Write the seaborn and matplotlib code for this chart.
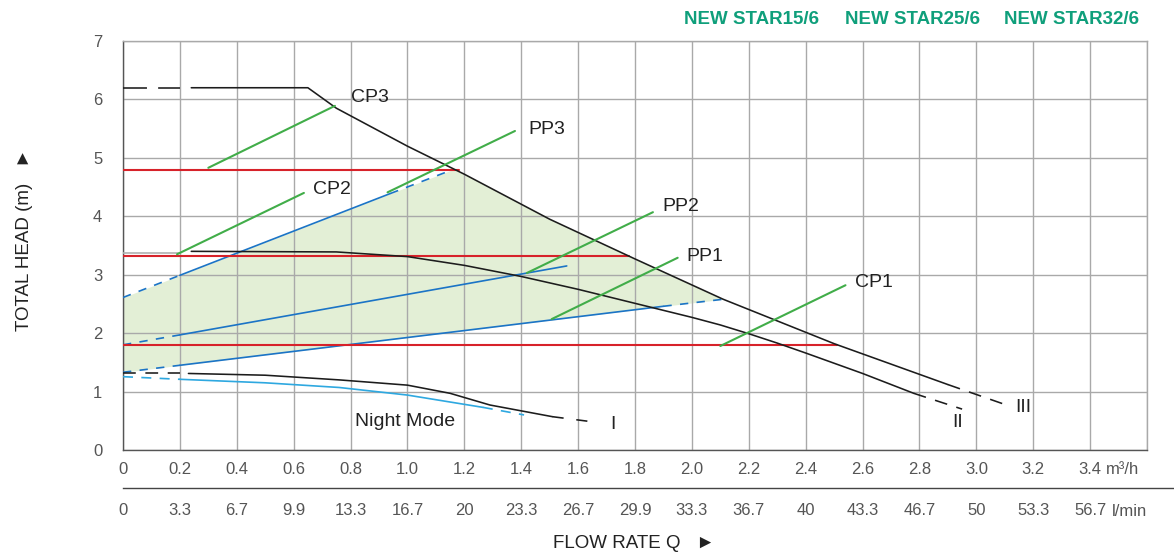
import numpy as np
import matplotlib
matplotlib.use("Agg")
import matplotlib.pyplot as plt
import seaborn as sns

# courbes de vitesse (debit m3/h, hauteur m)
q_iii = [0.24, 0.65, 0.75, 1.0, 1.2, 1.5, 1.8, 2.11, 2.5, 2.9]
h_iii = [6.2, 6.2, 5.85, 5.2, 4.72, 3.95, 3.27, 2.58, 1.82, 1.12]
q_iii_a, h_iii_a = [0, 0.2], [6.2, 6.2]
q_iii_b, h_iii_b = [2.9, 3.1], [1.12, 0.78]

q_ii = [0.24, 0.75, 1.0, 1.2, 1.4, 1.6, 1.85, 2.0, 2.1, 2.2, 2.3, 2.4, 2.6, 2.78]
h_ii = [3.4, 3.39, 3.31, 3.16, 2.97, 2.75, 2.45, 2.27, 2.14, 1.99, 1.83, 1.66, 1.31, 0.97]
q_ii_a, h_ii_a = [0, 0.2], [3.38, 3.38]
q_ii_b, h_ii_b = [2.78, 2.95], [0.97, 0.70]

q_i = [0.23, 0.5, 0.76, 1.0, 1.15, 1.29, 1.51]
h_i = [1.31, 1.28, 1.2, 1.11, 0.97, 0.77, 0.57]
q_i_a, h_i_a = [0, 0.2], [1.31, 1.31]
q_i_b, h_i_b = [1.51, 1.67], [0.57, 0.47]

# mode nuit
q_nm = [0.2, 0.5, 0.76, 1.0, 1.265]
h_nm = [1.21, 1.15, 1.07, 0.94, 0.73]
q_nm_a, h_nm_a = [0, 0.2], [1.255, 1.21]
q_nm_b, h_nm_b = [1.265, 1.41], [0.73, 0.6]

# pression proportionnelle
pp3_q, pp3_h = [0, 0.2, 0.94, 1.16], [2.61, 2.99, 4.39, 4.80]
pp2_q, pp2_h = [0, 0.2, 1.56], [1.80, 1.97, 3.15]
pp1_q, pp1_h = [0, 0.2, 1.9, 2.11], [1.33, 1.45, 2.46, 2.58]

# pression constante
cp_h = [4.8, 3.32, 1.8]
cp_qmax = [1.18, 1.78, 2.51]

# reperes
lead_names = ['CP3', 'CP2', 'PP3', 'PP2', 'PP1', 'CP1']
lead_q0 = [0.30, 0.19, 0.93, 1.42, 1.507, 2.10]
lead_h0 = [4.83, 3.35, 4.41, 3.03, 2.24, 1.78]
lead_q1 = [0.745, 0.636, 1.378, 1.863, 1.95, 2.54]
lead_h1 = [5.89, 4.40, 5.46, 4.07, 3.29, 2.82]
lab_q = [0.80, 0.668, 1.424, 1.895, 1.98, 2.573]
lab_h = [6.04, 4.46, 5.48, 4.16, 3.32, 2.875]

speed_names = ['I', 'II', 'III']
speed_q = [1.722, 2.935, 3.165]
speed_h = [0.43, 0.47, 0.72]

q_ticks = [0, 0.2, 0.4, 0.6, 0.8, 1.0, 1.2, 1.4, 1.6, 1.8, 2.0, 2.2, 2.4, 2.6, 2.8, 3.0, 3.2, 3.4, 3.6]
m3h_labels = ['0', '0.2', '0.4', '0.6', '0.8', '1.0', '1.2', '1.4', '1.6', '1.8', '2.0',
              '2.2', '2.4', '2.6', '2.8', '3.0', '3.2', '3.4', '']
lmin_labels = ['0', '3.3', '6.7', '9.9', '13.3', '16.7', '20', '23.3', '26.7', '29.9', '33.3',
               '36.7', '40', '43.3', '46.7', '50', '53.3', '56.7']
models = ['NEW STAR15/6', 'NEW STAR25/6', 'NEW STAR32/6']

sns.set_style('white')
plt.rcParams['font.family'] = ['Liberation Sans', 'DejaVu Sans']

BLACK = '#1c1c1c'
RED = '#d7222a'
GREEN = '#41ad49'
BLUE = '#1b74c6'
LBLUE = '#2ea8e0'
GRID = '#a9a9a9'

fig = plt.figure(figsize=(11.74, 5.56), dpi=100)
ax = fig.add_axes([123 / 1174, 106 / 556, 1024 / 1174, 409 / 556])


def seg(q, h, color, lw, ls='-', z=3):
    sns.lineplot(x=q, y=h, ax=ax, color=color, linewidth=lw, linestyle=ls,
                 zorder=z, sort=False, estimator=None)


# zone de fonctionnement
qq = np.linspace(0, pp1_q[-1], 400)
upper = np.minimum(np.interp(qq, pp3_q, pp3_h), np.interp(qq, q_iii_a + q_iii, h_iii_a + h_iii))
lower = np.interp(qq, pp1_q, pp1_h)
ax.fill_between(qq, lower, upper, where=upper >= lower, color='#e3efd6', lw=0, zorder=0.3)

# PP (bleu)
for q, h in [(pp3_q, pp3_h), (pp2_q, pp2_h), (pp1_q, pp1_h)]:
    seg(q[:2], h[:2], BLUE, 1.2, (0, (5, 5)))
    seg(q[1:3], h[1:3], BLUE, 1.2)
    if len(q) > 3:
        seg(q[2:], h[2:], BLUE, 1.2, (0, (5, 5)))

# CP (rouge)
for h, qm in zip(cp_h, cp_qmax):
    seg([0, qm], [h, h], RED, 1.5, z=3.5)

# courbes de vitesse
seg(q_iii, h_iii, BLACK, 1.15, z=4)
seg(q_iii_a, h_iii_a, BLACK, 1.15, (0, (15, 7)), z=4)
seg(q_iii_b, h_iii_b, BLACK, 1.15, (0, (8, 6)), z=4)
seg(q_ii, h_ii, BLACK, 1.15, z=4)
seg(q_ii_a, h_ii_a, '#b0b0b0', 1.2, z=4)
seg(q_ii_b, h_ii_b, BLACK, 1.15, (0, (8, 6)), z=4)
seg(q_i, h_i, BLACK, 1.15, z=4)
seg(q_i_a, h_i_a, BLACK, 1.15, (0, (8, 6)), z=4)
seg(q_i_b, h_i_b, BLACK, 1.15, (0, (7, 8)), z=4)
seg(q_nm, h_nm, LBLUE, 1.2, z=4)
seg(q_nm_a, h_nm_a, LBLUE, 1.2, (0, (6, 5)), z=4)
seg(q_nm_b, h_nm_b, LBLUE, 1.2, (0, (6, 5)), z=4)

# traits de repere verts + etiquettes
for i, name in enumerate(lead_names):
    seg([lead_q0[i], lead_q1[i]], [lead_h0[i], lead_h1[i]], GREEN, 1.5, z=5)
    ax.text(lab_q[i], lab_h[i], name, fontsize=14, color='#222222', ha='left', va='center', zorder=6)

for name, q, h in zip(speed_names, speed_q, speed_h):
    ax.text(q, h, name, fontsize=14, color='#222222', ha='center', va='center', zorder=6)
ax.text(0.99, 0.49, 'Night Mode', fontsize=14, color='#222222', ha='center', va='center', zorder=6)

ax.set_xlim(0, 3.6)
ax.set_ylim(0, 7)
ax.set_xticks(q_ticks)
ax.set_xticklabels(m3h_labels)
ax.set_yticks(range(8))
ax.set_axisbelow(True)
ax.grid(True, color=GRID, lw=1.0)
ax.tick_params(axis='both', length=0, labelsize=12, labelcolor='#555555')
ax.tick_params(axis='x', pad=9)
ax.tick_params(axis='y', pad=15)
for s in ['top', 'right']:
    ax.spines[s].set_color(GRID)
    ax.spines[s].set_linewidth(1.0)
for s in ['left', 'bottom']:
    ax.spines[s].set_color('#555555')
    ax.spines[s].set_linewidth(1.0)

# second axe l/min
ax2 = fig.add_axes([123 / 1174, 68 / 556, 1051 / 1174, 0.0001])
ax2.set_xlim(0, 1051 / (1024 / 3.6))
ax2.set_ylim(0, 1)
ax2.patch.set_visible(False)
for s in ['top', 'left', 'right']:
    ax2.spines[s].set_visible(False)
ax2.spines['bottom'].set_color('#444444')
ax2.spines['bottom'].set_linewidth(1.0)
ax2.set_yticks([])
ax2.set_xticks(q_ticks[:-1])
ax2.set_xticklabels(lmin_labels)
ax2.tick_params(axis='x', direction='out', length=5, width=1, color='#444444',
                labelsize=12, labelcolor='#555555', pad=6)

fig.text(1106 / 1174, (556 - 470) / 556, 'm³/h', fontsize=12, color='#555555', ha='left', va='center')
fig.text(1112 / 1174, (556 - 512) / 556, 'l/min', fontsize=12, color='#555555', ha='left', va='center')

# fleche vers le haut: le triangle pointe a droite avant rotation
fig.text(25 / 1174, (556 - 240) / 556, 'TOTAL HEAD (m)   ►', rotation=90, fontsize=13.5,
         color='#222222', ha='center', va='center')
fig.text(634 / 1174, (556 - 543) / 556, 'FLOW RATE Q   ►', fontsize=13.5,
         color='#222222', ha='center', va='center')

for name, x in zip(models, [684, 845, 1004]):
    fig.text(x / 1174, (556 - 20) / 556, name, fontsize=13.5, fontweight='bold',
             color='#0f9f7b', ha='left', va='center')

plt.savefig('out.png', dpi=100)
